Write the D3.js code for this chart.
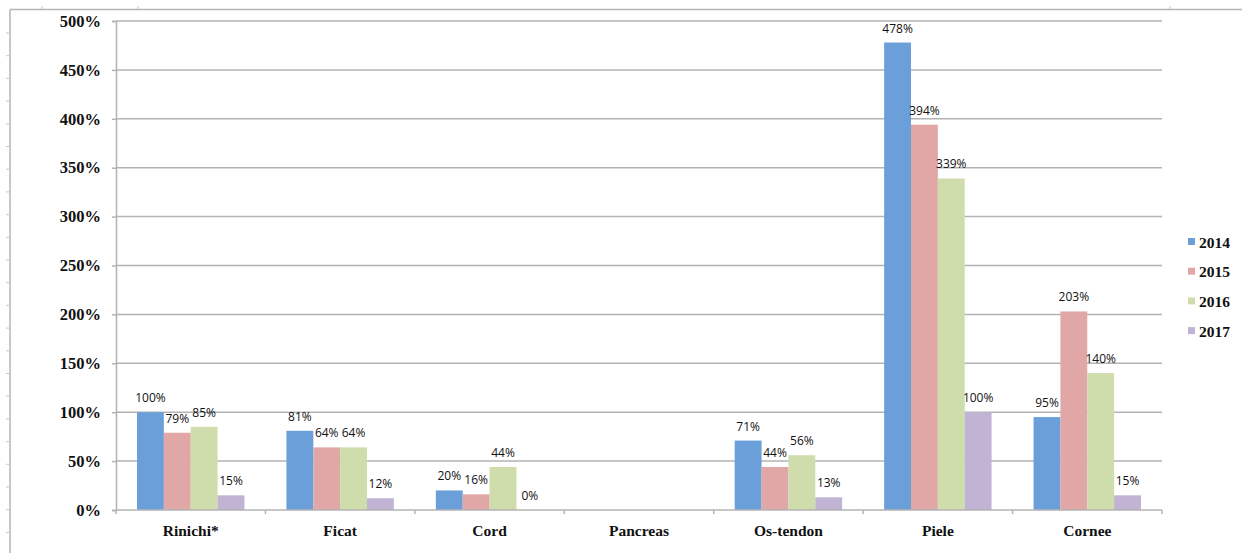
<!DOCTYPE html>
<html>
<head>
<meta charset="utf-8">
<script src="https://cdn.jsdelivr.net/npm/d3@7"></script>
<style>
html,body{margin:0;padding:0;background:#fff;}
svg{display:block;}
</style>
</head>
<body>
<svg id="chart" width="1242" height="553"></svg>
<script>
const categories = ["Rinichi*", "Ficat", "Cord", "Pancreas", "Os-tendon", "Piele", "Cornee"];
const years = ["2014", "2015", "2016", "2017"];
const v2014 = [100, 81, 20, null, 71, 478, 95];
const v2015 = [79, 64, 16, null, 44, 394, 203];
const v2016 = [85, 64, 44, null, 56, 339, 140];
const v2017 = [15, 12, 0, null, 13, 100, 15];
const yTicks = [0, 50, 100, 150, 200, 250, 300, 350, 400, 450, 500];
const colors = ["#6a9fd9", "#e0a7a6", "#cfdcab", "#c0b3d3"];

const series = [v2014, v2015, v2016, v2017];
const svg = d3.select("#chart");

// page frame
svg.append("line").attr("x1", 10).attr("x2", 1242).attr("y1", 9.5).attr("y2", 9.5)
  .attr("stroke", "#b5b5b5").attr("stroke-width", 1.5);
svg.append("line").attr("x1", 10).attr("x2", 10).attr("y1", 9.5).attr("y2", 553)
  .attr("stroke", "#b5b5b5").attr("stroke-width", 1.5);
for (let yy = 33; yy < 553; yy += 22.7) {
  svg.append("line").attr("x1", 6).attr("x2", 9).attr("y1", yy).attr("y2", yy)
    .attr("stroke", "#c8c8c8").attr("stroke-width", 1);
}
[42, 138, 1170].forEach(xx => {
  svg.append("line").attr("x1", xx).attr("x2", xx).attr("y1", 6).attr("y2", 9)
    .attr("stroke", "#c8c8c8").attr("stroke-width", 1);
});

const pL = 116, pR = 1162, pT = 21, pB = 510;
const y = d3.scaleLinear().domain([0, 500]).range([pB, pT]);
const x0 = d3.scaleBand().domain(categories).range([pL, pR]).padding(0);
const bw = x0.bandwidth();
const x1 = d3.scaleBand().domain(years).range([21, bw - 21]).padding(0);

// gridlines
svg.append("g").selectAll("line").data(yTicks.filter(t => t > 0)).join("line")
  .attr("x1", pL).attr("x2", pR)
  .attr("y1", d => y(d)).attr("y2", d => y(d))
  .attr("stroke", "#b3b3b3").attr("stroke-width", 1.5);

// y axis
const yAxis = d3.axisLeft(y).tickValues(yTicks).tickSize(4).tickFormat(d => d + "%");
const gy = svg.append("g").attr("transform", `translate(${pL},0)`).call(yAxis);
gy.select(".domain").attr("stroke", "#b3b3b3").attr("stroke-width", 1.5);
gy.selectAll(".tick line").attr("stroke", "#b3b3b3").attr("stroke-width", 1.5);
gy.selectAll(".tick text").attr("x", -15)
  .style("font-family", "'Liberation Serif', 'Times New Roman', serif")
  .style("font-weight", "bold").style("font-size", "16.5px").attr("fill", "#111");

// bars
categories.forEach((c, i) => {
  const g = svg.append("g").attr("transform", `translate(${x0(c)},0)`);
  years.forEach((yr, k) => {
    const v = series[k][i];
    if (v === null) return;
    g.append("rect")
      .attr("x", x1(yr)).attr("width", x1.bandwidth())
      .attr("y", y(v)).attr("height", y(0) - y(v))
      .attr("fill", colors[k]);
  });
});

// x axis
const xAxis = d3.axisBottom(x0).tickSize(0).tickFormat(d => d);
const gx = svg.append("g").attr("transform", `translate(0,${pB})`).call(xAxis);
gx.select(".domain").attr("stroke", "#b3b3b3").attr("stroke-width", 1.5).attr("d", `M${pL},0H${pR}`);
gx.selectAll(".tick text").attr("y", 15)
  .style("font-family", "'Liberation Serif', 'Times New Roman', serif")
  .style("font-weight", "bold").style("font-size", "15.5px").attr("fill", "#111");
// category separator ticks
const sepTicks = categories.map(c => x0(c)).concat([pR]);
svg.append("g").selectAll("line").data(sepTicks).join("line")
  .attr("x1", d => d).attr("x2", d => d)
  .attr("y1", pB).attr("y2", pB + 4)
  .attr("stroke", "#b3b3b3").attr("stroke-width", 1.5);

// data labels
const lg = svg.append("g");
categories.forEach((c, i) => {
  years.forEach((yr, k) => {
    const v = series[k][i];
    if (v === null) return;
    const cx = x0(c) + x1(yr) + x1.bandwidth() / 2;
    lg.append("text")
      .attr("x", cx).attr("y", y(v) - 10)
      .attr("text-anchor", "middle")
      .style("font-family", "'Open Sans', 'Liberation Sans', sans-serif")
      .style("font-size", "12px").attr("fill", "#111")
      .text(v + "%");
  });
});

// legend
const leg = svg.append("g");
years.forEach((yr, k) => {
  const yy = 242 + k * 29.7;
  leg.append("rect").attr("x", 1188).attr("y", yy - 4).attr("width", 7).attr("height", 7).attr("fill", colors[k]);
  leg.append("text").attr("x", 1199).attr("y", yy + 5.5)
    .style("font-family", "'Liberation Serif', 'Times New Roman', serif")
    .style("font-weight", "bold").style("font-size", "15.5px").attr("fill", "#111")
    .text(yr);
});
</script>
</body>
</html>
